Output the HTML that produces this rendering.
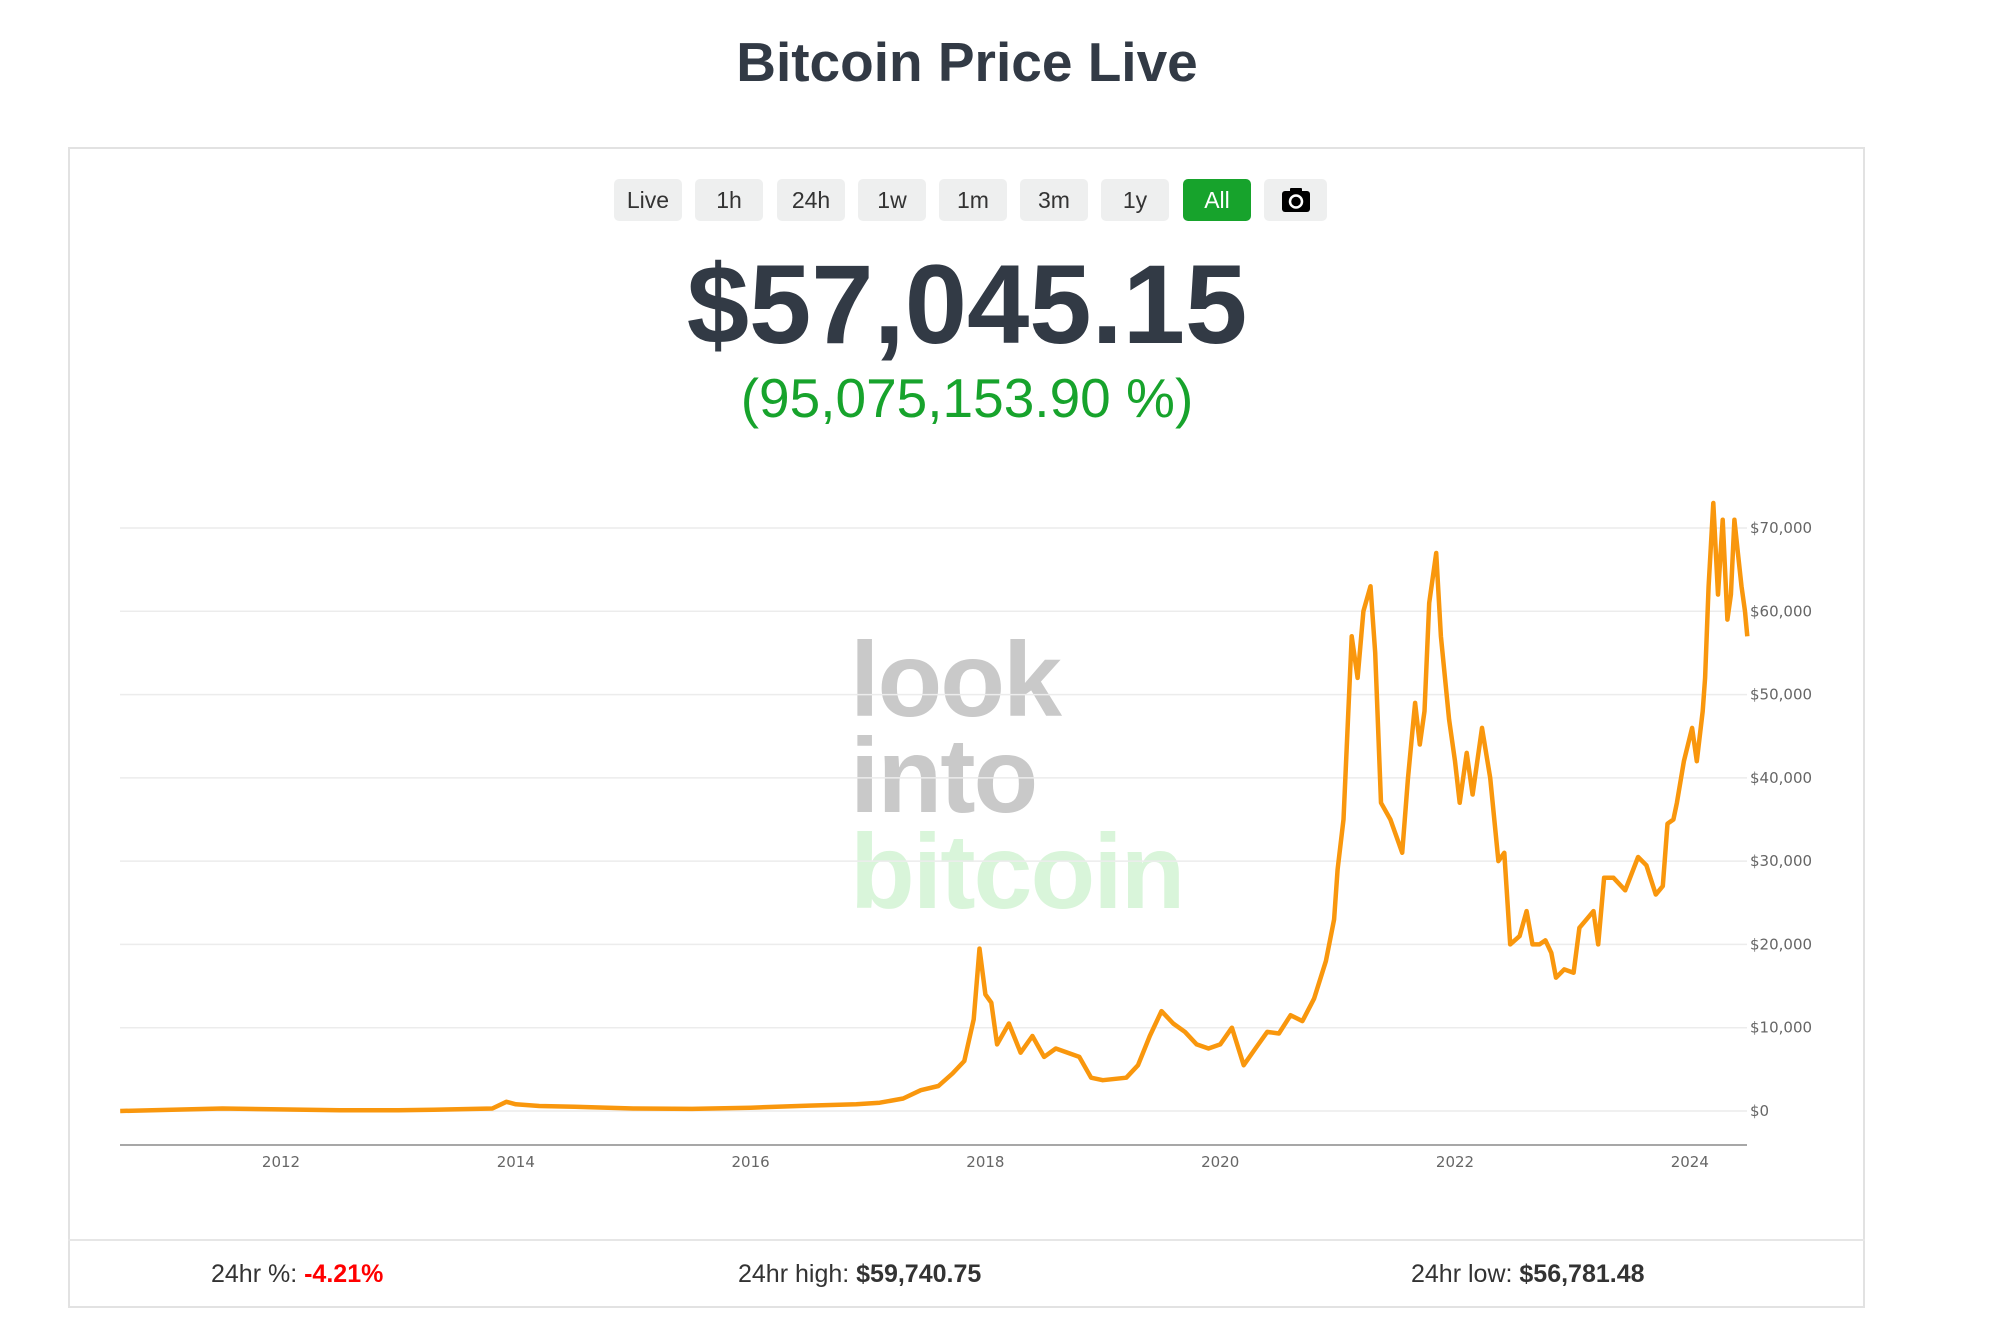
<!DOCTYPE html>
<html><head><meta charset="utf-8"><style>
body{margin:0;width:2000px;height:1340px;background:#fff;font-family:"Liberation Sans",sans-serif;position:relative;overflow:hidden}
.abs{position:absolute}
#title{left:0;width:1934px;top:30px;text-align:center;font-size:55px;font-weight:bold;color:#323a45}
#card{left:68px;top:147px;width:1797px;height:1161px;border:2px solid #e2e2e2;box-sizing:border-box}
.btn{position:absolute;top:179px;width:68px;height:42px;background:#eeefef;border-radius:5px;color:#333;font-size:23px;line-height:42px;text-align:center}
.btn.on{background:#17a32c;color:#fff}
#price{left:0;width:1934px;top:240px;text-align:center;font-size:112px;font-weight:bold;color:#323a45;line-height:130px}
#pct{left:0;width:1934px;top:366px;text-align:center;font-size:55px;color:#17a32c;line-height:64px}
.wm{position:absolute;left:850px;font-weight:bold;font-size:106px;letter-spacing:-2px;line-height:100px}
#sep{left:68px;width:1797px;top:1239px;height:2px;background:#e6e6e6}
.ft{position:absolute;top:1260px;font-size:25px;color:#333}
</style></head><body>
<div id="title" class="abs">Bitcoin Price Live</div>
<div id="card" class="abs"></div>
<div class="btn" style="left:614px">Live</div>
<div class="btn" style="left:695px">1h</div>
<div class="btn" style="left:777px">24h</div>
<div class="btn" style="left:858px">1w</div>
<div class="btn" style="left:939px">1m</div>
<div class="btn" style="left:1020px">3m</div>
<div class="btn" style="left:1101px">1y</div>
<div class="btn on" style="left:1183px">All</div>
<div class="btn" style="left:1264px;width:63px"><svg width="30" height="26" viewBox="0 0 30 26" style="margin-top:8px"><rect x="1" y="4" width="28" height="21" rx="3" fill="#000"/><rect x="9" y="1" width="12" height="5" rx="1" fill="#000"/><circle cx="15" cy="14.5" r="6" fill="none" stroke="#fff" stroke-width="2.5"/></svg></div>
<div id="price" class="abs">$57,045.15</div>
<div id="pct" class="abs">(95,075,153.90 %)</div>
<div class="wm" style="top:630px;color:#c9c9c9">look</div>
<div class="wm" style="top:726px;color:#c9c9c9">into</div>
<div class="wm" style="top:822px;color:#d9f5da">bitcoin</div>
<svg id="chart" class="abs" style="left:0;top:0" width="2000" height="1340"></svg>
<div id="sep" class="abs"></div>
<div class="ft" style="left:211px">24hr %: <b style="color:#f00">-4.21%</b></div>
<div class="ft" style="left:738px">24hr high: <b>$59,740.75</b></div>
<div class="ft" style="left:1411px">24hr low: <b>$56,781.48</b></div>
<script>
const dates=[2010.63,2011.5,2012.5,2013.0,2013.3,2013.8,2013.92,2014.0,2014.2,2014.5,2015.0,2015.5,2016.0,2016.5,2016.9,2017.1,2017.3,2017.45,2017.6,2017.72,2017.82,2017.9,2017.95,2018.0,2018.05,2018.1,2018.2,2018.3,2018.4,2018.5,2018.6,2018.8,2018.9,2019.0,2019.2,2019.3,2019.4,2019.5,2019.6,2019.7,2019.8,2019.9,2020.0,2020.1,2020.2,2020.3,2020.4,2020.5,2020.6,2020.7,2020.8,2020.9,2020.97,2021.0,2021.05,2021.12,2021.17,2021.22,2021.28,2021.32,2021.37,2021.45,2021.55,2021.6,2021.66,2021.7,2021.74,2021.78,2021.84,2021.88,2021.95,2022.0,2022.04,2022.1,2022.15,2022.23,2022.3,2022.37,2022.42,2022.47,2022.55,2022.61,2022.66,2022.72,2022.77,2022.82,2022.86,2022.93,2023.01,2023.06,2023.12,2023.18,2023.22,2023.27,2023.35,2023.45,2023.56,2023.63,2023.71,2023.77,2023.81,2023.86,2023.89,2023.95,2024.02,2024.06,2024.11,2024.13,2024.16,2024.2,2024.24,2024.28,2024.32,2024.35,2024.38,2024.41,2024.44,2024.47,2024.49];
const prices=[0,300,100,100,150,300,1100,800,600,500,300,250,400,650,800,1000,1500,2500,3000,4500,6000,11000,19500,14000,13000,8000,10500,7000,9000,6500,7500,6500,4000,3700,4000,5500,9000,12000,10500,9500,8000,7500,8000,10000,5500,7500,9500,9300,11500,10800,13500,18000,23000,29000,35000,57000,52000,60000,63000,55000,37000,35000,31000,40000,49000,44000,48000,61000,67000,57000,47000,42000,37000,43000,38000,46000,40000,30000,31000,20000,21000,24000,20000,20000,20500,19000,16000,17000,16600,22000,23000,24000,20000,28000,28000,26500,30500,29500,26000,27000,34500,35000,37000,42000,46000,42000,48000,52000,63000,73000,62000,71000,59000,62000,71000,67000,63000,60000,57000];
const yTicks=[0,10000,20000,30000,40000,50000,60000,70000];
const yTickLabels=["$0","$10,000","$20,000","$30,000","$40,000","$50,000","$60,000","$70,000"];
const xTicks=[2012,2014,2016,2018,2020,2022,2024];
const xTickLabels=["2012","2014","2016","2018","2020","2022","2024"];
const NS="http://www.w3.org/2000/svg";
const svg=document.getElementById('chart');
const X0=120,X1=1747;
function xs(t){return 281+(t-2012)*117.4;}
function ys(v){return 1111-v*(583/70000);}
function mk(tag,attrs){const e=document.createElementNS(NS,tag);for(const k in attrs)e.setAttribute(k,attrs[k]);svg.appendChild(e);return e;}
yTicks.forEach((v,i)=>{
 const g=mk('line',{x1:X0,x2:X1,y1:ys(v),y2:ys(v),stroke:'#ececec','stroke-width':1.5});
 
 
 const t=mk('text',{x:1750,y:ys(v)+5,'font-size':15,fill:'#666','font-family':'DejaVu Sans, sans-serif'});
 t.textContent=yTickLabels[i];
 
 
});
const ax=mk('line',{x1:X0,x2:X1,y1:1145,y2:1145,stroke:'#8a8a8a','stroke-width':1.5});


xTicks.forEach((v,i)=>{
 const t=mk('text',{x:xs(v),y:1167,'font-size':15,fill:'#666','text-anchor':'middle','font-family':'DejaVu Sans, sans-serif'});
 t.textContent=xTickLabels[i];
 
 
});
let d='';
dates.forEach((t,i)=>{d+=(i?'L':'M')+xs(t).toFixed(1)+','+ys(prices[i]).toFixed(1);});
const p=mk('path',{d:d,fill:'none',stroke:'#f9970d','stroke-width':4.5,'stroke-linejoin':'round'});


</script>
</body></html>
